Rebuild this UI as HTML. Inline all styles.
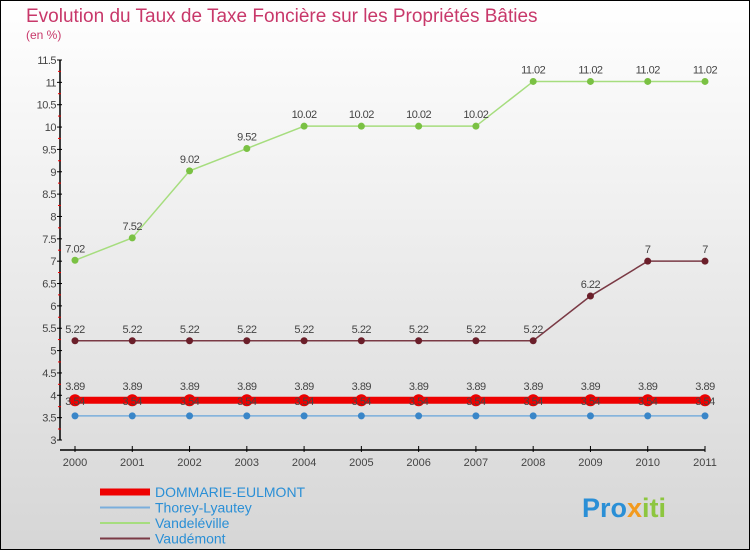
<!DOCTYPE html>
<html><head><meta charset="utf-8"><style>
body{margin:0}
#c{width:750px;height:550px;position:relative;box-sizing:border-box;border:1px solid #000;background:linear-gradient(#fff,#d6d6d6);font-family:"Liberation Sans",sans-serif;overflow:hidden}
</style></head><body>
<div id="c">
<svg id="s" width="750" height="550" style="position:absolute;left:-1px;top:-1px">
<text x="26" y="22" font-size="19" fill="#c8386a">Evolution du Taux de Taxe Foncière sur les Propriétés Bâties</text>
<text x="26" y="39" font-size="12" fill="#c8386a">(en %)</text>
<g id="axes"></g><g id="series"></g><g id="legend"></g>
<text x="582" y="517" font-size="27" font-weight="bold" fill="#2a8fd6">Pro<tspan fill="#f29a1e">x</tspan><tspan fill="#8dc63f">iti</tspan></text>
</svg>
</div>
<script>
const years=[2000,2001,2002,2003,2004,2005,2006,2007,2008,2009,2010,2011];
const dommarie=[3.89,3.89,3.89,3.89,3.89,3.89,3.89,3.89,3.89,3.89,3.89,3.89];
const thorey=[3.54,3.54,3.54,3.54,3.54,3.54,3.54,3.54,3.54,3.54,3.54,3.54];
const vandeleville=[7.02,7.52,9.02,9.52,10.02,10.02,10.02,10.02,11.02,11.02,11.02,11.02];
const vaudemont=[5.22,5.22,5.22,5.22,5.22,5.22,5.22,5.22,5.22,6.22,7,7];
const yTicks=[3,3.5,4,4.5,5,5.5,6,6.5,7,7.5,8,8.5,9,9.5,10,10.5,11,11.5];
const NS="http://www.w3.org/2000/svg";
const X=i=>75+i*(630/(years.length-1));
const Y=v=>440-(v-3)*(380/8.5);
function mk(t,a,p){const e=document.createElementNS(NS,t);for(const k in a)e.setAttribute(k,a[k]);p.appendChild(e);return e;}
const ax=document.getElementById('axes');
mk('line',{x1:60,y1:60,x2:60,y2:440,stroke:'#000','stroke-width':1.5},ax);
mk('line',{x1:60,y1:450,x2:705,y2:450,stroke:'#000','stroke-width':1.5},ax);
yTicks.forEach(v=>{const y=Y(v);
mk('line',{x1:57,y1:y,x2:62,y2:y,stroke:'#000'},ax);
if(v<11.5)mk('line',{x1:58,y1:y-11,x2:61,y2:y-11,stroke:'#e00'},ax);
const t=mk('text',{x:56,y:y+4,'font-size':11,fill:'#444','text-anchor':'end','letter-spacing':'-0.5'},ax);t.textContent=v;

});
years.forEach((yr,i)=>{const x=X(i);
mk('line',{x1:x,y1:446,x2:x,y2:452,stroke:'#000'},ax);
const t=mk('text',{x:x,y:466,'font-size':11,fill:'#444','text-anchor':'middle'},ax);t.textContent=yr;

});
const sg=document.getElementById('series');
function series(name,data,color,lw,r,mcol,labelOff){
const g=mk('g',{},sg);


mk('polyline',{points:data.map((v,i)=>X(i)+','+Y(v)).join(' '),fill:'none',stroke:color,'stroke-width':lw},g);
data.forEach((v,i)=>{const c=mk('circle',{cx:X(i),cy:Y(v),r:r,fill:mcol},g);


const t=mk('text',{x:X(i),y:Y(v)+labelOff,'font-size':11,fill:'#444','text-anchor':'middle','letter-spacing':'-0.5'},g);t.textContent=v;});
}
series('vandeleville',vandeleville,'#a6dd7e',1.5,3.5,'#7ac143',-8);
series('vaudemont',vaudemont,'#7a3a45',1.5,3.5,'#6b1f2a',-8);
series('dommarie',dommarie,'#e00',7,6,'#e00',-10);
series('thorey',thorey,'#7aaedc',1.5,3.5,'#3a86c8',-11);
const lg=document.getElementById('legend');
[['DOMMARIE-EULMONT','#e00',7],['Thorey-Lyautey','#7aaedc',2],['Vandeléville','#a6dd7e',2],['Vaudémont','#7a3a45',2]].forEach((d,i)=>{
const y=492+i*15.5;const g=mk('g',{},lg);


mk('line',{x1:100,y1:y,x2:150,y2:y,stroke:d[1],'stroke-width':d[2]},g);
const t=mk('text',{x:155,y:y+5,'font-size':14,fill:'#2a8fd6'},g);t.textContent=d[0];});
</script>
</body></html>
